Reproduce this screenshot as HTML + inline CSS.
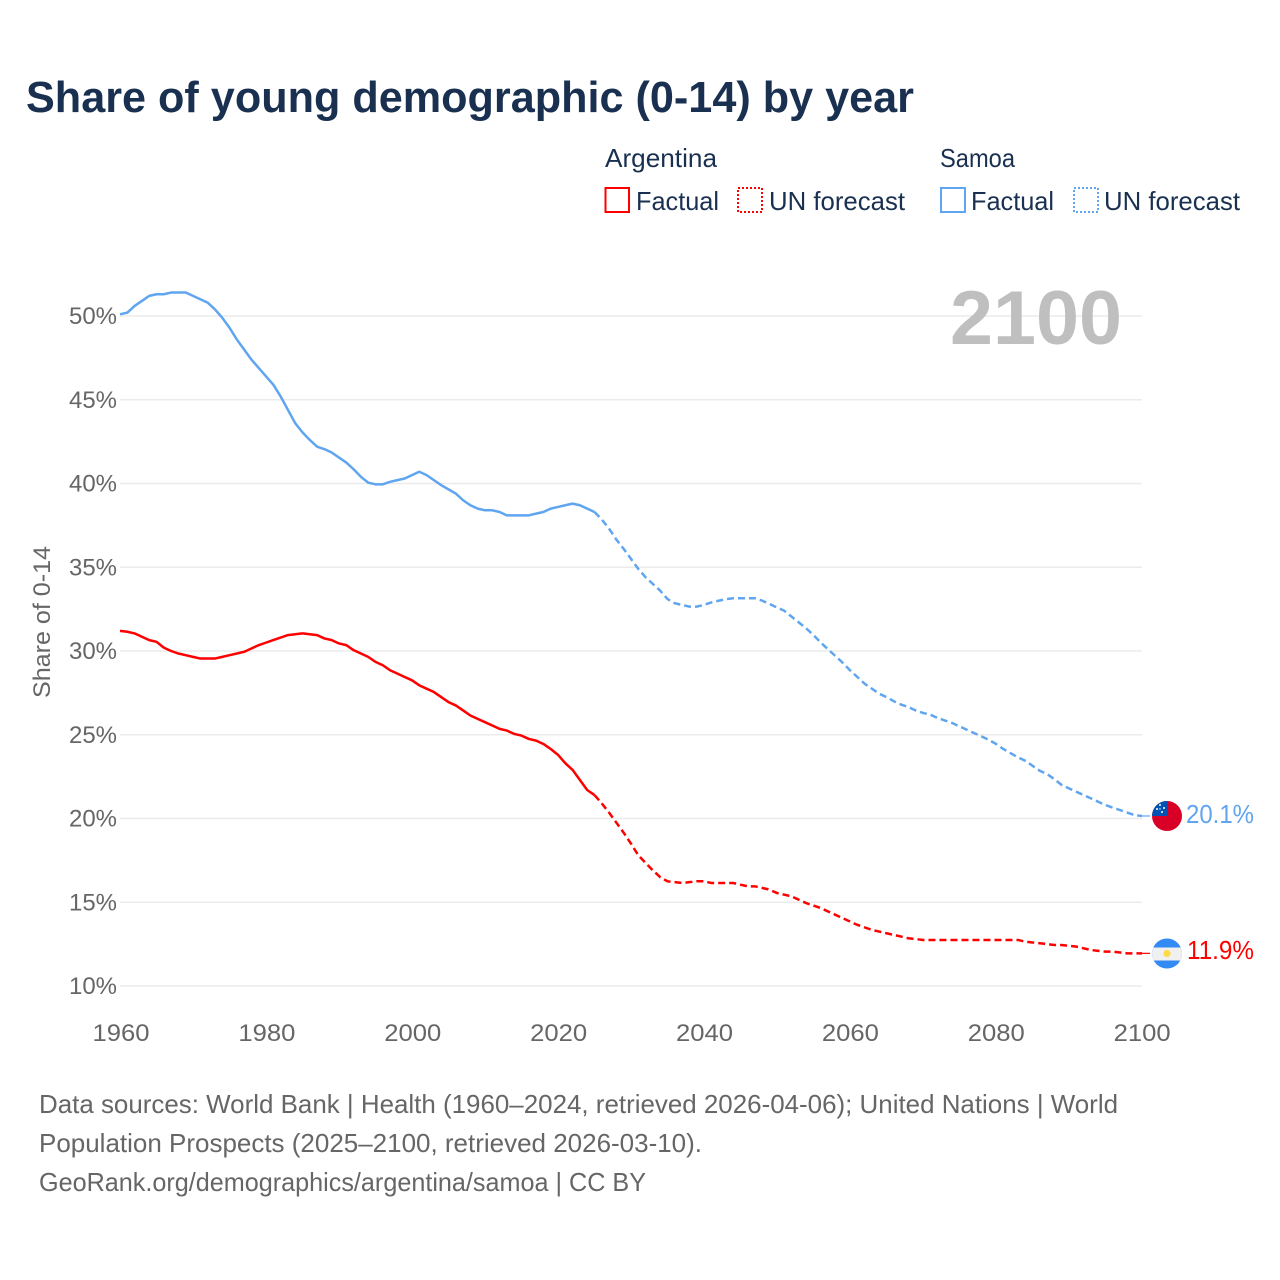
<!DOCTYPE html>
<html lang="en">
<head>
<meta charset="utf-8">
<title>Share of young demographic (0-14) by year</title>
<style>
html,body{margin:0;padding:0;background:#fff;}
svg{display:block;font-family:"Liberation Sans",sans-serif;}
</style>
</head>
<body>
<svg id="chart" width="1280" height="1280" viewBox="0 0 1280 1280" xmlns="http://www.w3.org/2000/svg">
  <rect width="1280" height="1280" fill="#fff"/>
  <text x="26" y="112" font-size="44" font-weight="700" fill="#1a3050" textLength="888" lengthAdjust="spacingAndGlyphs">Share of young demographic (0-14) by year</text>

  <g font-size="26" fill="#1a3050">
    <text x="605" y="167" textLength="112" lengthAdjust="spacingAndGlyphs">Argentina</text>
    <rect x="605.5" y="188" width="23.5" height="24" fill="none" stroke="#ff0000" stroke-width="2"/>
    <text x="636" y="210" textLength="83" lengthAdjust="spacingAndGlyphs">Factual</text>
    <rect x="738" y="188" width="24" height="24" fill="none" stroke="#ff0000" stroke-width="2" stroke-dasharray="2 2"/>
    <text x="769" y="210" textLength="136" lengthAdjust="spacingAndGlyphs">UN forecast</text>
    <text x="940" y="167" textLength="75" lengthAdjust="spacingAndGlyphs">Samoa</text>
    <rect x="941" y="188" width="24" height="24" fill="none" stroke="#60a5ef" stroke-width="2"/>
    <text x="971" y="210" textLength="83" lengthAdjust="spacingAndGlyphs">Factual</text>
    <rect x="1074" y="188" width="24" height="24" fill="none" stroke="#60a5ef" stroke-width="2" stroke-dasharray="2 2"/>
    <text x="1104" y="210" textLength="136" lengthAdjust="spacingAndGlyphs">UN forecast</text>
  </g>

  <g id="grid"></g>
  <text x="1122" y="344" text-anchor="end" font-size="76" font-weight="700" fill="#bfbfbf" textLength="172" lengthAdjust="spacingAndGlyphs">2100</text>
  <g id="yticks"></g>
  <g id="xticks"></g>
  <text transform="translate(50,698) rotate(-90)" font-size="24" fill="#666666" textLength="152" lengthAdjust="spacingAndGlyphs">Share of 0-14</text>
  <g id="series"></g>

  <defs>
    <clipPath id="flag-clip-ws"><circle cx="1167" cy="816" r="15"/></clipPath>
    <clipPath id="flag-clip-ar"><circle cx="1167" cy="953.5" r="15"/></clipPath>
  </defs>
  <g clip-path="url(#flag-clip-ws)">
    <rect x="1152" y="801" width="30" height="30" fill="#d80027"/>
    <rect x="1152" y="801" width="15" height="15" fill="#0052b4"/>
    <circle cx="1160" cy="805" r="1" fill="#fff"/>
    <circle cx="1164" cy="808" r="1" fill="#fff"/>
    <circle cx="1157" cy="809" r="1" fill="#fff"/>
    <circle cx="1162" cy="812" r="1" fill="#fff"/>
    <circle cx="1160" cy="809" r="0.7" fill="#fff"/>
  </g>
  <g clip-path="url(#flag-clip-ar)">
    <rect x="1152" y="938.5" width="30" height="30" fill="#338af3"/>
    <rect x="1152" y="947.5" width="30" height="13" fill="#f0f0f0"/>
    <circle cx="1167" cy="953.5" r="3.6" fill="#ffda44"/>
  </g>
  <text x="1186" y="823" font-size="26" fill="#60a5ef" textLength="68" lengthAdjust="spacingAndGlyphs">20.1%</text>
  <text x="1187" y="959" font-size="26" fill="#ff0000" textLength="67" lengthAdjust="spacingAndGlyphs">11.9%</text>

  <g font-size="26" fill="#666666">
    <text x="39" y="1113" textLength="1079" lengthAdjust="spacingAndGlyphs">Data sources: World Bank | Health (1960–2024, retrieved 2026-04-06); United Nations | World</text>
    <text x="39" y="1152" textLength="663" lengthAdjust="spacingAndGlyphs">Population Prospects (2025–2100, retrieved 2026-03-10).</text>
    <text x="39" y="1191" textLength="607" lengthAdjust="spacingAndGlyphs">GeoRank.org/demographics/argentina/samoa | CC BY</text>
  </g>
</svg>
<script>
const firstYear = 1960;
const lastFactualYear = 2025;
const xTickYears = [1960, 1980, 2000, 2020, 2040, 2060, 2080, 2100];
const yTickValues = [10, 15, 20, 25, 30, 35, 40, 45, 50];
const samoaValues = [
  50.1,50.2,50.6,50.9,51.2,51.3,51.3,51.4,51.4,51.4,
  51.2,51.0,50.8,50.4,49.9,49.3,48.6,48.0,47.4,46.9,
  46.4,45.9,45.2,44.4,43.6,43.05,42.6,42.2,42.05,41.85,
  41.55,41.25,40.85,40.4,40.05,39.95,39.95,40.1,40.2,40.3,
  40.5,40.7,40.5,40.2,39.9,39.65,39.4,39.0,38.7,38.5,
  38.4,38.4,38.3,38.1,38.1,38.1,38.1,38.2,38.3,38.5,
  38.6,38.7,38.8,38.7,38.5,38.3,37.85,37.3,36.65,36.1,
  35.5,34.9,34.4,34.0,33.6,33.1,32.85,32.75,32.65,32.65,
  32.75,32.9,33.0,33.1,33.15,33.15,33.15,33.15,33.0,32.8,
  32.6,32.4,32.05,31.7,31.35,30.95,30.5,30.1,29.7,29.3,
  28.85,28.45,28.05,27.75,27.45,27.25,27.0,26.8,26.65,26.45,
  26.3,26.2,26.0,25.85,25.7,25.5,25.3,25.1,24.9,24.7,
  24.45,24.15,23.9,23.65,23.45,23.15,22.85,22.65,22.35,22.0,
  21.8,21.6,21.4,21.2,21.0,20.8,20.65,20.5,20.35,20.2,
  20.15
];
const argentinaValues = [
  31.2,31.15,31.05,30.85,30.65,30.55,30.2,30.0,29.85,29.75,
  29.65,29.55,29.55,29.55,29.65,29.75,29.85,29.95,30.15,30.35,
  30.5,30.65,30.8,30.95,31.0,31.05,31.0,30.95,30.75,30.65,
  30.45,30.35,30.05,29.85,29.65,29.35,29.15,28.85,28.65,28.45,
  28.25,27.95,27.75,27.55,27.25,26.95,26.75,26.45,26.15,25.95,
  25.75,25.55,25.35,25.25,25.05,24.95,24.75,24.65,24.45,24.15,
  23.8,23.3,22.9,22.3,21.7,21.4,20.9,20.35,19.75,19.15,
  18.5,17.8,17.35,16.9,16.5,16.25,16.2,16.15,16.2,16.25,
  16.25,16.15,16.15,16.15,16.15,16.05,15.95,15.95,15.85,15.75,
  15.55,15.45,15.35,15.15,14.95,14.8,14.65,14.45,14.25,14.05,
  13.85,13.65,13.5,13.35,13.25,13.15,13.05,12.95,12.85,12.8,
  12.75,12.75,12.75,12.75,12.75,12.75,12.75,12.75,12.75,12.75,
  12.75,12.75,12.75,12.75,12.65,12.6,12.55,12.5,12.45,12.45,
  12.4,12.35,12.25,12.15,12.1,12.05,12.05,12.0,11.95,11.95,
  11.95
];

const SVG_NS = 'http://www.w3.org/2000/svg';
function xScale(year) { return 120 + (year - 1960) * (1142 - 120) / 140; }
function yScale(value) { return 986 - (value - 10) * 16.75; }
function linePath(values, startYear, endYear) {
  let d = '';
  for (let yr = startYear; yr <= endYear; yr++) {
    const v = values[yr - firstYear];
    d += (d ? 'L' : 'M') + xScale(yr).toFixed(2) + ' ' + yScale(v).toFixed(2);
  }
  return d;
}

const gridGroup = document.getElementById('grid');
const yTickGroup = document.getElementById('yticks');
const xTickGroup = document.getElementById('xticks');
const seriesGroup = document.getElementById('series');

yTickValues.forEach(function (v) {
  const line = document.createElementNS(SVG_NS, 'line');
  
  
  line.setAttribute('x1', 120);
  line.setAttribute('x2', 1142);
  line.setAttribute('y1', yScale(v));
  line.setAttribute('y2', yScale(v));
  line.setAttribute('stroke', '#ebebeb');
  line.setAttribute('stroke-width', '1.5');
  gridGroup.appendChild(line);

  const t = document.createElementNS(SVG_NS, 'text');
  
  
  t.setAttribute('x', 69);
  t.setAttribute('y', yScale(v) + 8);
  t.setAttribute('font-size', '24');
  t.setAttribute('fill', '#666666');
  t.setAttribute('textLength', '48');
  t.setAttribute('lengthAdjust', 'spacingAndGlyphs');
  t.textContent = v + '%';
  yTickGroup.appendChild(t);
});

xTickYears.forEach(function (yr) {
  const t = document.createElementNS(SVG_NS, 'text');
  
  
  t.setAttribute('x', xScale(yr) - 27.5 - (yr - 1960) * 0.006);
  t.setAttribute('y', 1041);
  t.setAttribute('font-size', '24');
  t.setAttribute('fill', '#666666');
  t.setAttribute('textLength', '57');
  t.setAttribute('lengthAdjust', 'spacingAndGlyphs');
  t.textContent = String(yr);
  xTickGroup.appendChild(t);
});

function drawSeries(values, color, key) {
  const lastYear = firstYear + values.length - 1;

  const factual = document.createElementNS(SVG_NS, 'path');
  
  
  factual.setAttribute('d', linePath(values, firstYear, lastFactualYear));
  factual.setAttribute('fill', 'none');
  factual.setAttribute('stroke', color);
  factual.setAttribute('stroke-width', '2.5');
  factual.setAttribute('stroke-linejoin', 'round');
  seriesGroup.appendChild(factual);

  const forecast = document.createElementNS(SVG_NS, 'path');
  
  
  forecast.setAttribute('d', linePath(values, lastFactualYear, lastYear));
  forecast.setAttribute('fill', 'none');
  forecast.setAttribute('stroke', color);
  forecast.setAttribute('stroke-width', '2.5');
  forecast.setAttribute('stroke-dasharray', '7 4');
  seriesGroup.appendChild(forecast);

  const connector = document.createElementNS(SVG_NS, 'line');
  
  
  connector.setAttribute('x1', xScale(lastYear));
  connector.setAttribute('x2', xScale(lastYear) + 8);
  connector.setAttribute('y1', yScale(values[values.length - 1]));
  connector.setAttribute('y2', yScale(values[values.length - 1]));
  connector.setAttribute('stroke', color);
  connector.setAttribute('stroke-width', '1.2');
  seriesGroup.appendChild(connector);
}

drawSeries(samoaValues, '#60a5ef', 'samoa');
drawSeries(argentinaValues, '#ff0000', 'argentina');
</script>
</body>
</html>
